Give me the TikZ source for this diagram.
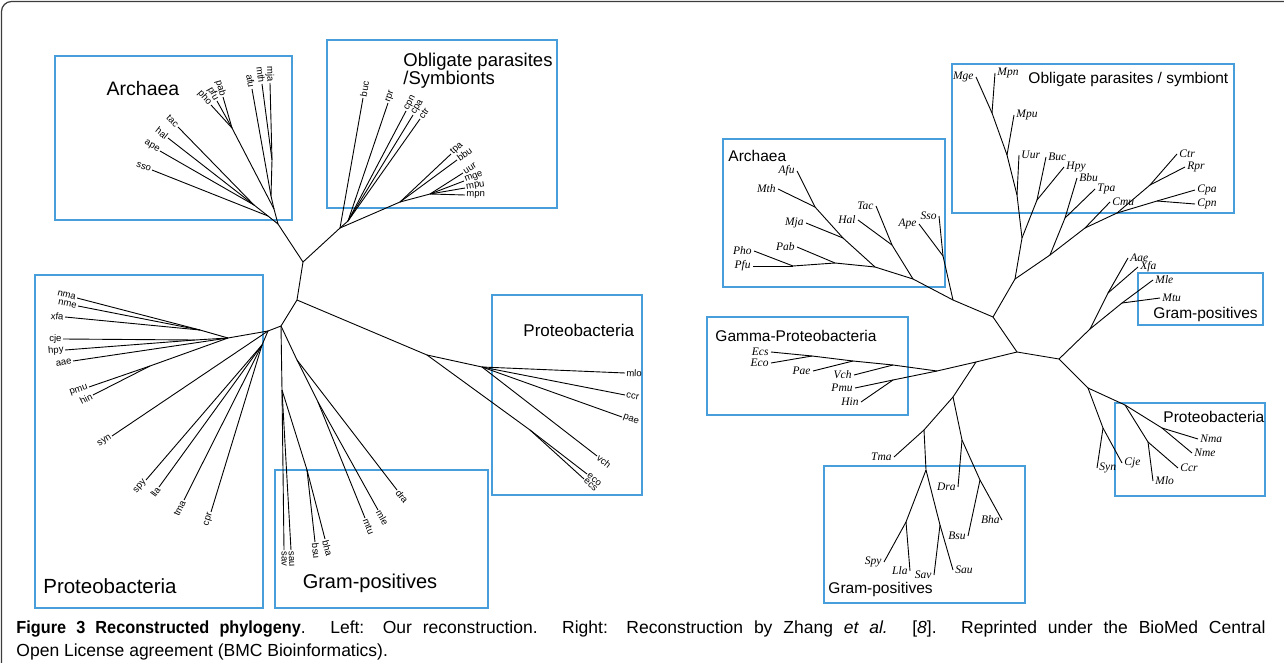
\documentclass[tikz,border=0pt]{standalone}
\usepackage{fontspec}
\setmainfont{Liberation Sans}
\newfontfamily\leaffont{Liberation Serif}
\newfontfamily\capfont[BoldFeatures={FakeStretch=0.93}]{Liberation Sans}
\definecolor{boxblue}{RGB}{72,158,218}
\definecolor{framegray}{RGB}{60,60,60}

\begin{document}
\begin{tikzpicture}[x=1pt, y=-1pt, line width=0.9pt,
  grp/.style={draw=boxblue, line width=2pt},
  grplab/.style={font=\fontsize{19.5}{19}\selectfont, inner sep=0pt},
  rgrplab/.style={font=\fontsize{15.5}{16}\selectfont, inner sep=0pt, anchor=west},
  lw/.style={font=\fontsize{9.5}{10}\selectfont, inner sep=1pt, anchor=west},
  le/.style={font=\fontsize{9.5}{10}\selectfont, inner sep=1pt, anchor=east},
  rw/.style={font=\leaffont\itshape\fontsize{11.5}{12}\selectfont, inner sep=2pt, anchor=west},
  re/.style={font=\leaffont\itshape\fontsize{11.5}{12}\selectfont, inner sep=2pt, anchor=east}]
  \useasboundingbox (0,0) rectangle (1284,663);
  \draw[framegray, line width=1.2pt, rounded corners=10pt] (1.5,663) -- (1.5,1.5) -- (1284,1.5);

  % left tree: our reconstruction
  \draw[grp] (55,56) rectangle (292,220);
  \draw[grp] (327,40) rectangle (557,208);
  \draw[grp] (35,275) rectangle (263,608);
  \draw[grp] (275,470) rectangle (488,608);
  \draw[grp] (492,295) rectangle (642,495);
  \node[grplab] (arch-l) at (143,89) {Archaea};
  \node[grplab, anchor=north west, align=left, font=\fontsize{18.5}{18}\selectfont] (obl-l) at (403,53) {Obligate parasites\\/Symbionts};
  \node[grplab, font=\fontsize{20.5}{20}\selectfont] (prot-l) at (110,586) {Proteobacteria};
  \node[grplab, font=\fontsize{20}{20}\selectfont] (gram-l) at (370,583) {Gram-positives};
  \node[grplab, anchor=west, font=\fontsize{17}{17}\selectfont] (prot-r) at (523,330) {Proteobacteria};

  \foreach \n/\x/\y in {L1/303/262, L2/297/300, L3/281/326, L4/268/331,
      a0/278/224, a1/254/205, a2/268/216, a3/232/128, a4/272/160, a5/271/196, a6/274/209,
      sso/152/170, ape/160/151, hal/168/138, tac/178/127, pho/211/105, pfu/217/101,
      pab/223/97, afu/252/89, mth/262/84, mja/270/83,
      p0/340/228, p1/348/221, p4/400/202, p6/430/194,
      buc/363/98, rpr/388/103, cpn/406/111, cpa/413/115, ctr/420/119, tpa/451/154,
      bbu/457/160, uur/463/173, mge/464/181, mpu/465/188, mpn/465/195,
      r1/228/338, r6/200/330, r8/195/340, r7/150/366, r3/262/345,
      nma/77/298, nme/78/306, xfa/65/317, cje/63/339, hpy/65/350, aae/73/361,
      pmu/89/387, hin/93/395, syn/112/436, spy/146/480, lla/159/487, tma/184/500, cpr/211/512,
      g1/282/390, g2/307/470, g3/297/360, g4/318/402,
      sav/284/550, sau/291/550, bsu/315/542, bha/325/539, mtu/365/518, mle/378/510, dra/397/490,
      q0/427/355, q1/482/367, q2/530/430,
      mlo/625/373, ccr/625/395, pae/622/417, vch/597/456, eco/587/474, ecs/584/479}
    \coordinate (\n) at (\x,\y);

  \foreach \a/\b in {L1/a0, L1/p0, L1/L2, L2/L3, L2/q0, L3/L4, L3/g1, L3/g3, L4/r1, L4/r3,
      a0/a2, a0/a6, a2/a1, a6/a3, a6/a5, a5/a4, p0/p1, p0/p4, p4/p6,
      r1/r6, r1/r8, r1/r7, g1/g2, g3/g4, q0/q1, q0/q2}
    \draw (\a) -- (\b);

  \foreach \a/\b in {a2/sso, a1/ape, a1/hal, a1/tac, a3/pho, a3/pfu, a3/pab, a5/afu, a4/mth, a4/mja,
      r6/nma, r6/nme, r6/xfa, r8/cje, r8/hpy, r1/aae, r7/pmu, r7/hin, L4/syn,
      r3/spy, r3/lla, r3/tma, r3/cpr}
    \draw (\a) -- (\b) node[pos=1, sloped, le] (t-\b) {\b};

  \foreach \a/\b in {p0/buc, p1/rpr, p1/cpn, p1/cpa, p1/ctr, p4/tpa, p4/bbu, p6/uur, p6/mge,
      p6/mpu, p6/mpn, g1/sav, g1/sau, g2/bsu, g2/bha, g4/mtu, g4/mle, g3/dra,
      q1/mlo, q1/ccr, q1/pae, q1/vch, q2/eco, q2/ecs}
    \draw (\a) -- (\b) node[pos=1, sloped, lw] (t-\b) {\b};

  % right tree: Zhang et al.
  \draw[grp] (723,139) rectangle (945,287);
  \draw[grp] (952,64) rectangle (1234,213);
  \draw[grp] (707,317) rectangle (908,415);
  \draw[grp] (1138,273) rectangle (1263,325);
  \draw[grp] (1115,403) rectangle (1265,496);
  \draw[grp] (824,466) rectangle (1025,603);
  \node[rgrplab] (arch-z) at (728,156) {Archaea};
  \node[rgrplab] (obl-z) at (1028,79) {Obligate parasites / symbiont};
  \node[rgrplab] (gamma-z) at (715,336) {Gamma-Proteobacteria};
  \node[rgrplab] (gramt-z) at (1153,314) {Gram-positives};
  \node[rgrplab] (prot-z) at (1163,417) {Proteobacteria};
  \node[rgrplab] (gramb-z) at (828,589) {Gram-positives};

  \foreach \n/\x/\y in {C1/993/317, C2/1017/352, C3/1059/359, M1/976/362, M2/953/397,
      AR1/793/266, AR2/835/263, AR3/875/267, AR4/843/238, AR5/913/279, AR6/892/245,
      AR7/953/300, AR8/943/256, AR9/815/207,
      Afu/797/171, Mth/778/189, Mja/806/223, Pab/797/247, Pho/754/251, Pfu/753/266,
      Tac/876/206, Hal/858/220, Ape/919/224, Sso/939/216,
      P1/1015/279, P2/1050/255, P3/1065/218, P4/1085/228, P5/1117/213, P6/1150/185,
      P7/1157/201, S1/992/113, S2/1007/155, S3/1017/195, S4/1022/238, S5/1037/200,
      Mge/976/77, Mpn/995/73, Mpu/1014/115, Uur/1019/155, Buc/1046/157, Hpy/1064/167,
      Bbu/1077/178, Tpa/1095/189, Cmu/1110/202, Ctr/1177/154, Rpr/1185/167,
      Cpa/1195/190, Cpn/1195/204,
      K1/1090/329, K2/1108/293, K3/1122/303, Aae/1128/258, Xfa/1138/267, Mle/1153/280, Mtu/1160/298,
      R1/1088/388, N0/1125/405, N1/1162/428, N2/1148/442, N3/1103/428,
      Syn/1097/468, Cje/1122/463, Nma/1198/439, Nme/1192/453, Ccr/1178/468, Mlo/1153/481,
      G0/937/371, G1/893/365, G2/853/361, G3/812/356, G4/893/380,
      Ecs/771/352, Eco/771/363, Pae/813/371, Vch/854/375, Pmu/855/388, Hin/861/402,
      T1/924/430, T2/962/440, T3/926/470, T4/906/522, T5/940/525, T6/980/480,
      Tma/894/457, Dra/958/487, Bsu/968/536, Bha/1002/520, Spy/884/562, Lla/910/571,
      Sav/934/575, Sau/953/570}
    \coordinate (\n) at (\x,\y);

  \foreach \a/\b in {C1/AR7, C1/P1, C1/C2, C2/C3, C2/M1, C3/K1, C3/R1, M1/G0, M1/M2, M2/T1, M2/T2,
      AR7/AR5, AR7/AR8, AR5/AR3, AR5/AR6, AR3/AR2, AR3/AR4, AR2/AR1, AR4/AR9,
      P1/S4, P1/P2, S4/S3, S4/S5, S3/S2, S2/S1, P2/P3, P2/P4, P4/P5, P5/P6, P5/P7,
      K1/K2, K1/K3, R1/N3, R1/N0, N0/N1, N0/N2,
      G0/G1, G0/G4, G1/G2, G2/G3, T1/T3, T3/T4, T3/T5, T2/T6}
    \draw (\a) -- (\b);

  \foreach \a/\b in {AR1/Pho, AR1/Pfu, AR2/Pab, AR4/Mja, AR9/Afu, AR9/Mth, AR6/Tac, AR6/Hal,
      AR8/Ape, AR8/Sso, S1/Mge, G3/Ecs, G3/Eco, G2/Pae, G1/Vch, G4/Pmu, G4/Hin,
      T1/Tma, T2/Dra, T6/Bsu, T6/Bha, T4/Spy, T4/Lla, T5/Sav}
    \draw (\a) -- (\b) node[re] (t-\b) {\b};

  \foreach \a/\b in {S1/Mpn, S2/Mpu, S3/Uur, S5/Buc, S5/Hpy, P3/Bbu, P3/Tpa, P4/Cmu, P6/Ctr,
      P6/Rpr, P7/Cpa, P7/Cpn, K2/Aae, K2/Xfa, K3/Mle, K3/Mtu, N3/Syn, N3/Cje,
      N1/Nma, N1/Nme, N2/Ccr, N2/Mlo, T5/Sau}
    \draw (\a) -- (\b) node[rw] (t-\b) {\b};

  \node[anchor=base west, inner sep=0pt, font=\capfont\fontsize{17.5}{18}\selectfont] (cap1) at (16,633)
    {\makebox[1249pt][s]{\textbf{Figure 3 Reconstructed phylogeny}. Left: Our reconstruction. Right: Reconstruction by Zhang \textit{et al.} [\textit{8}]. Reprinted under the BioMed Central}};
  \node[anchor=base west, inner sep=0pt, font=\capfont\fontsize{17.5}{18}\selectfont] (cap2) at (16,656)
    {Open License agreement (BMC Bioinformatics).};
\end{tikzpicture}
\end{document}
